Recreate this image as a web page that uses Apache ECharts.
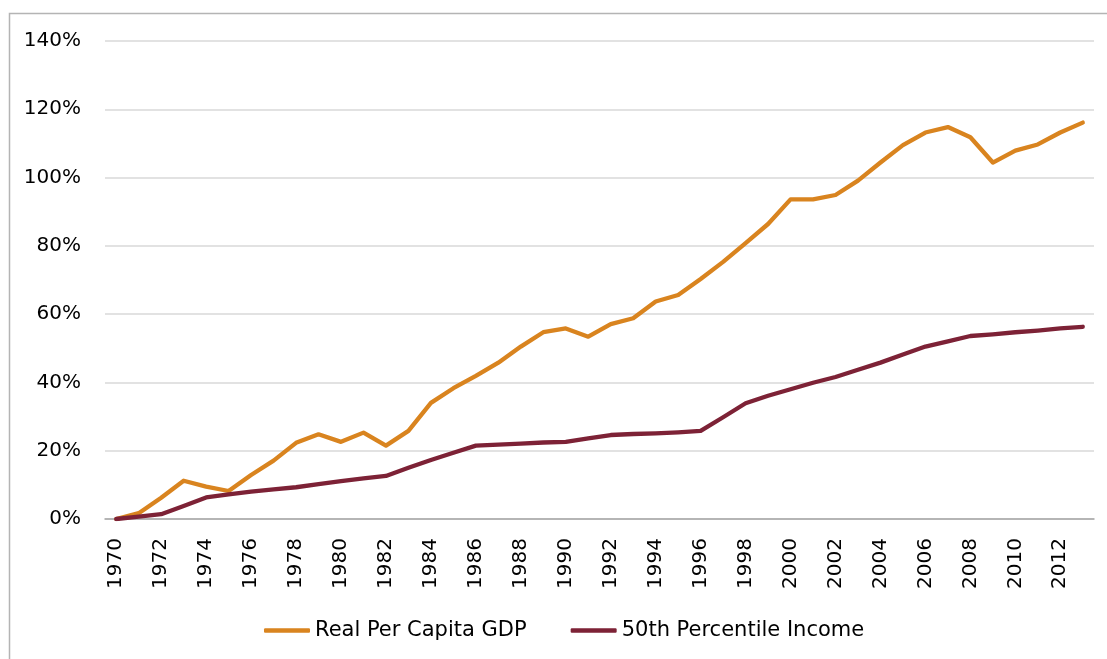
<!DOCTYPE html>
<html>
<head>
<meta charset="utf-8">
<script src="https://cdn.jsdelivr.net/npm/echarts@6/dist/echarts.min.js"></script>
<style>
html,body{margin:0;padding:0;background:#fff;}
#c{width:1107px;height:659px;}
</style>
</head>
<body>
<div id="c"></div>
<script>
var years = [];
for (var y = 1970; y <= 2013; y++) years.push(String(y));
var gdp = [0, 1.7, 6.2, 11.2, 9.5, 8.2, 12.9, 17.1, 22.3, 24.8,
           22.6, 25.3, 21.5, 25.8, 34.0, 38.3, 41.9, 45.8, 50.5, 54.7,
           55.8, 53.4, 57.1, 58.8, 63.7, 65.6, 70.3, 75.3, 80.8, 86.4,
           93.6, 93.6, 94.9, 99.1, 104.4, 109.5, 113.2, 114.8, 111.8, 104.4,
           107.9, 109.7, 113.2, 116.1];
var median = [0, 0.7, 1.4, 3.8, 6.3, 7.2, 8.0, 8.7, 9.3, 10.2,
              11.1, 11.9, 12.6, 15.0, 17.3, 19.4, 21.5, 21.8, 22.1, 22.4,
              22.6, 23.6, 24.6, 24.9, 25.1, 25.4, 25.8, 29.8, 33.9, 36.1,
              38.0, 39.9, 41.6, 43.7, 45.8, 48.2, 50.5, 52.0, 53.6, 54.1,
              54.7, 55.2, 55.8, 56.3];
var seriesNames = ['Real Per Capita GDP', '50th Percentile Income'];
var colors = ['#D9841F', '#7D2236'];

var chart = echarts.init(document.getElementById('c'), null, {renderer: 'canvas'});
var font = 'DejaVu Sans';
chart.setOption({
  animation: false,
  backgroundColor: '#fff',
  color: colors,
  graphic: [{
    type: 'rect', left: 7, top: 11, silent: true,
    shape: {x: 0, y: 0, width: 1110, height: 660},
    style: {fill: 'none', stroke: '#b4b4b4', lineWidth: 1.5}
  }],
  grid: {left: 105, right: 13, top: 41, bottom: 140, containLabel: false},
  legend: {
    left: 259, top: 615,
    icon: 'roundRect',
    itemWidth: 46, itemHeight: 4.5, itemGap: 44,
    textStyle: {fontFamily: font, fontSize: 21, color: '#000'},
    data: seriesNames
  },
  xAxis: {
    type: 'category', data: years, boundaryGap: true,
    axisLine: {lineStyle: {color: '#a6a6a6', width: 1.5}},
    axisTick: {show: false},
    axisLabel: {interval: 1, rotate: 90, margin: 19, color: '#000',
                fontFamily: font, fontSize: 20}
  },
  yAxis: {
    type: 'value', min: 0, max: 140, interval: 20,
    axisLine: {show: false}, axisTick: {show: false},
    splitLine: {lineStyle: {color: '#d9d9d9', width: 1.5}},
    axisLabel: {formatter: '{value}%', margin: 24, color: '#000',
                fontFamily: font, fontSize: 20}
  },
  series: [
    {name: seriesNames[0], type: 'line', data: gdp, symbol: 'none',
     lineStyle: {width: 4.3, color: colors[0], cap: 'round', join: 'round'}},
    {name: seriesNames[1], type: 'line', data: median, symbol: 'none',
     lineStyle: {width: 4.3, color: colors[1], cap: 'round', join: 'round'}}
  ]
});
</script>
</body>
</html>
